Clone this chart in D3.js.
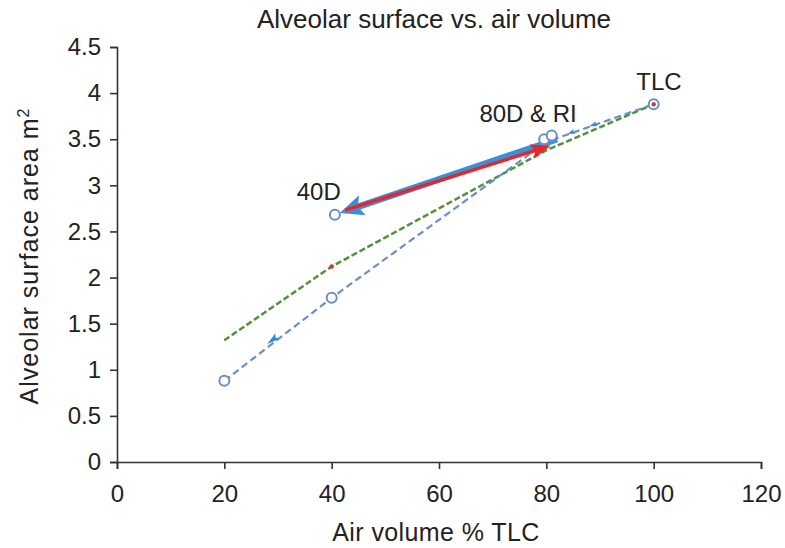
<!DOCTYPE html>
<html><head><meta charset="utf-8">
<script src="https://cdn.jsdelivr.net/npm/d3@7"></script>
<style>body{margin:0;background:#fff}text{font-family:"Liberation Sans",Arial,sans-serif}</style>
</head><body><svg id="c" width="785" height="548"></svg>
<script>
const xTicks=[0,20,40,60,80,100,120];
const yTicks=[0,0.5,1,1.5,2,2.5,3,3.5,4,4.5];
const blueX=[20,40,80,100];
const blueY=[0.88,1.78,3.47,3.88];
const greenX=[20,40,80,100];
const greenY=[1.32,2.12,3.38,3.88];
const circleX=[20,40,40.6,79.6,81,100];
const circleY=[0.88,1.78,2.68,3.50,3.54,3.88];
const blueArrow=[[82,3.50],[41.5,2.70]];
const redArrow=[[42.5,2.73],[80.8,3.43]];
const labels=[{t:"TLC",x:101,y:4.03},{t:"80D & RI",x:76.6,y:3.69},{t:"40D",x:37.6,y:2.84}];

const svg=d3.select("#c");
const x=d3.scaleLinear().domain([0,120]).range([117,761]);
const y=d3.scaleLinear().domain([0,4.5]).range([462,47]);

svg.append("text").attr("x",434).attr("y",28).attr("text-anchor","middle").attr("font-size",26).attr("fill","#222").text("Alveolar surface vs. air volume");

const gx=svg.append("g").attr("transform","translate(0,462)").call(d3.axisBottom(x).tickValues(xTicks).tickSize(7).tickPadding(16));
const gy=svg.append("g").attr("transform","translate(117,0)").call(d3.axisLeft(y).tickValues(yTicks).tickFormat(d=>String(d)).tickSize(7).tickPadding(9));
[gx,gy].forEach(g=>{g.selectAll("path,line").attr("stroke","#333").attr("stroke-width",1.6);g.selectAll("text").attr("font-size",24).attr("fill","#222").attr("font-family","Liberation Sans, Arial, sans-serif");});

svg.append("text").attr("x",436).attr("y",541).attr("text-anchor","middle").attr("font-size",25).attr("letter-spacing",0.4).attr("fill","#222").text("Air volume % TLC");
svg.append("text").attr("transform","translate(38,256) rotate(-90)").attr("text-anchor","middle").attr("font-size",25).attr("letter-spacing",1).attr("fill","#222")
  .html('Alveolar surface area m<tspan dy="-9" font-size="16">2</tspan>');

const line=d3.line().x(d=>x(d[0])).y(d=>y(d[1]));
const bluePts=blueX.map((v,i)=>[v,blueY[i]]);
const greenPts=greenX.map((v,i)=>[v,greenY[i]]);
svg.append("path").attr("d",line(greenPts)).attr("fill","none").attr("stroke","#c0502a").attr("stroke-width",2.4).attr("stroke-dasharray","6,3").attr("opacity",0.6);
svg.append("path").attr("d",line(greenPts)).attr("fill","none").attr("stroke","#3e9a3a").attr("stroke-width",2.2).attr("stroke-dasharray","6,3");
svg.append("path").attr("d",line(bluePts)).attr("fill","none").attr("stroke","#6a8fc8").attr("stroke-width",2.2).attr("stroke-dasharray","7,4");

svg.append("circle").attr("cx",x(greenX[1])).attr("cy",y(greenY[1])).attr("r",2.2).attr("fill","#d03a2a");

function arrowHead(p0,p1,len,wid,color){
  const x0=x(p0[0]),y0=y(p0[1]),x1=x(p1[0]),y1=y(p1[1]);
  const a=Math.atan2(y1-y0,x1-x0);
  const bx=x1-len*Math.cos(a),by=y1-len*Math.sin(a);
  const nx=-Math.sin(a)*wid/2,ny=Math.cos(a)*wid/2;
  svg.append("path").attr("d",`M${x1},${y1}L${bx+nx},${by+ny}L${bx+len*0.2*Math.cos(a)},${by+len*0.2*Math.sin(a)}L${bx-nx},${by-ny}Z`).attr("fill",color);
}
arrowHead([34,1.55],[28,1.28],13,7,"#2f8ad8");
arrowHead([92,3.72],[88,3.64],8,5,"#2f8ad8");
arrowHead([86,3.60],[84,3.56],7,5,"#2f8ad8");

function thickArrow(s,e,w,len,wid,color){
  const x0=x(s[0]),y0=y(s[1]),x1=x(e[0]),y1=y(e[1]);
  const a=Math.atan2(y1-y0,x1-x0);
  svg.append("line").attr("x1",x0).attr("y1",y0).attr("x2",x1-len*0.7*Math.cos(a)).attr("y2",y1-len*0.7*Math.sin(a)).attr("stroke",color).attr("stroke-width",w);
  arrowHead(s,e,len,wid,color);
}
thickArrow(blueArrow[0],blueArrow[1],6.5,24,21,"#3d8fd4");
thickArrow(redArrow[0],redArrow[1],3.4,20,15,"#e8252b");

svg.selectAll("circle.pt").data(circleX.map((v,i)=>[v,circleY[i]])).enter().append("circle").attr("class","pt")
  .attr("cx",d=>x(d[0])).attr("cy",d=>y(d[1])).attr("r",5).attr("fill","#fff").attr("stroke","#6a8fc8").attr("stroke-width",2);
svg.append("circle").attr("cx",x(100)).attr("cy",y(3.88)).attr("r",2.2).attr("fill","#d03a3a");

labels.forEach(l=>svg.append("text").attr("x",x(l.x)).attr("y",y(l.y)).attr("text-anchor","middle").attr("font-size",24).attr("fill","#222").text(l.t));
</script></body></html>
